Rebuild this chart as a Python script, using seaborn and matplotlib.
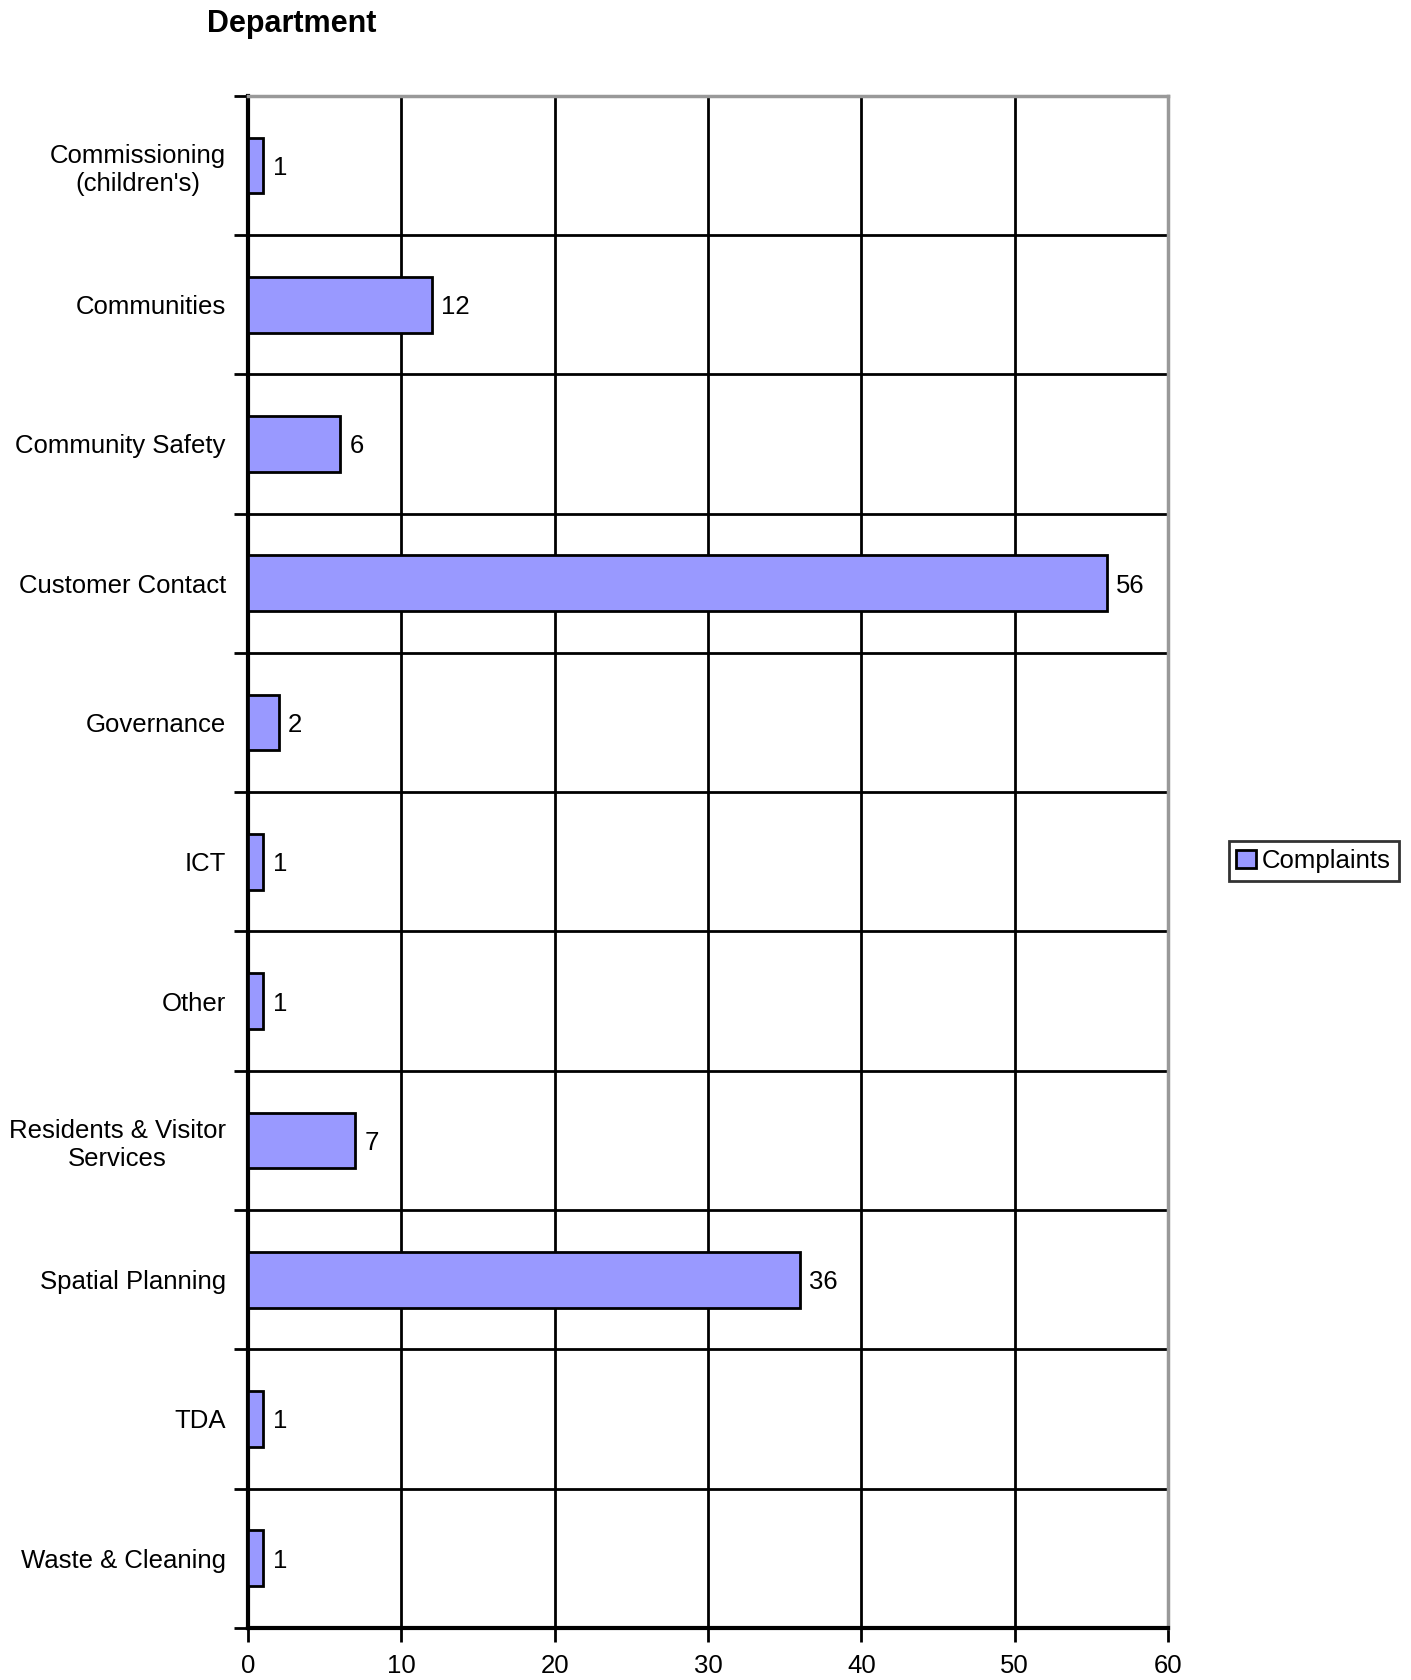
import matplotlib
matplotlib.use("Agg")
import matplotlib.pyplot as plt
import seaborn as sns
import pandas as pd
from matplotlib.ticker import FixedLocator
from matplotlib.patches import Patch

departments = [
    "Commissioning\n(children's)",
    "Communities",
    "Community Safety",
    "Customer Contact",
    "Governance",
    "ICT",
    "Other",
    "Residents & Visitor\nServices",
    "Spatial Planning",
    "TDA",
    "Waste & Cleaning",
]
complaints = [1, 12, 6, 56, 2, 1, 1, 7, 36, 1, 1]
x_ticks = [0, 10, 20, 30, 40, 50, 60]

sns.set_style("white")
plt.rcParams["font.family"] = ["Liberation Sans", "DejaVu Sans"]
plt.rcParams["text.color"] = "black"
plt.rcParams["xtick.color"] = "black"
plt.rcParams["ytick.color"] = "black"

df = pd.DataFrame({"Department": departments, "Complaints": complaints})

fig = plt.figure(figsize=(14.11, 16.8), dpi=100)
ax = fig.add_axes([0.1758, 0.031, 0.652, 0.912])

bar_color = "#9999FF"
sns.barplot(data=df, x="Complaints", y="Department", orient="h",
            color=bar_color, edgecolor="black", linewidth=2.0,
            width=0.4, saturation=1, ax=ax, zorder=3)

n = len(departments)
ax.set_xlim(0, 60)
ax.set_ylim(n - 0.5, -0.5)
ax.set_xticks(x_ticks)
ax.set_xticklabels([str(t) for t in x_ticks], fontsize=18.5)
ax.set_xlabel("")
ax.set_ylabel("")

# category labels on major ticks, boundary marks on minor ticks
ax.set_yticks(range(n))
ax.set_yticklabels(departments, fontsize=18.5, multialignment="center")
ax.yaxis.set_minor_locator(FixedLocator([i - 0.5 for i in range(n + 1)]))
ax.tick_params(axis="y", which="major", left=True, length=0, pad=16)
ax.tick_params(axis="y", which="minor", left=True, length=10, width=2,
               color="black", direction="out")
ax.tick_params(axis="x", which="major", bottom=True, length=10, width=2,
               color="black", direction="out", pad=9)

# grid: vertical at value ticks, horizontal at category boundaries
for xv in x_ticks[1:-1]:
    ax.axvline(xv, color="black", lw=2, zorder=1)
for i in range(1, n):
    ax.axhline(i - 0.5, color="black", lw=2, zorder=1)

for side in ["top", "right"]:
    ax.spines[side].set_visible(True)
    ax.spines[side].set_color("#999999")
    ax.spines[side].set_linewidth(2.5)
for side in ["left", "bottom"]:
    ax.spines[side].set_color("black")
    ax.spines[side].set_linewidth(3)

# value labels
for i, v in enumerate(complaints):
    ax.text(v + 0.6, i, str(v), va="center_baseline", ha="left",
            fontsize=18.5, color="black", zorder=4)

fig.text(0.207, 0.986, "Department", fontsize=22, fontweight="bold",
         ha="center", va="center", color="black")

handle = Patch(facecolor=bar_color, edgecolor="black", linewidth=2)
leg = fig.legend([handle], ["Complaints"], loc="center",
                 bbox_to_anchor=(0.931, 0.4875), fontsize=18.5,
                 frameon=True, fancybox=False, handlelength=0.75,
                 handleheight=0.75, handletextpad=0.25,
                 borderpad=0.3, borderaxespad=0)
leg.get_frame().set_edgecolor("black")
leg.get_frame().set_linewidth(2)
for t in leg.get_texts():
    t.set_color("black")

fig.savefig("out.png", dpi=100)
